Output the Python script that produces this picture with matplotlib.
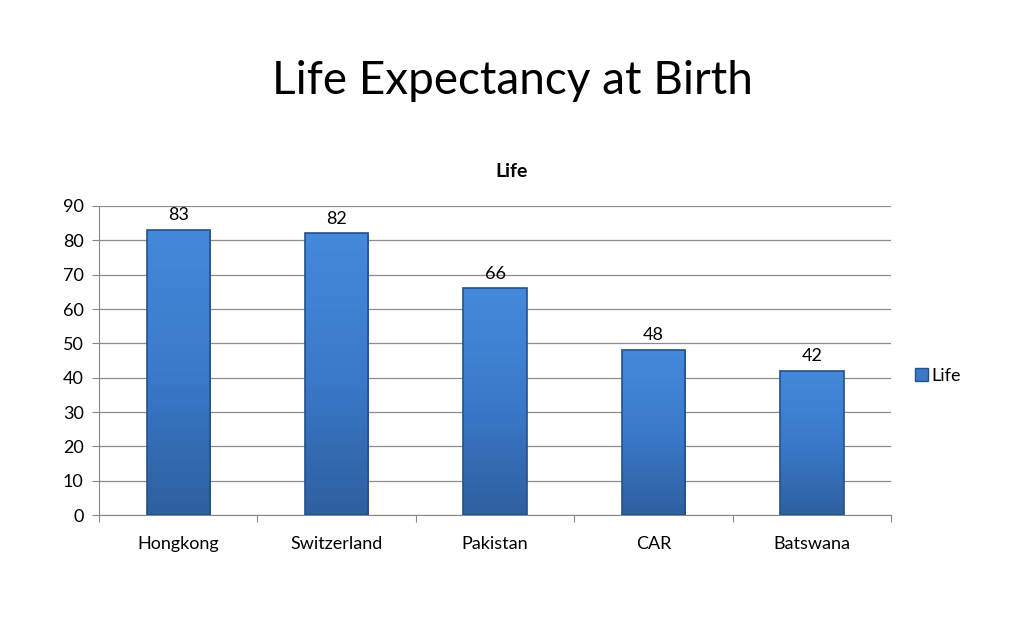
import matplotlib.pyplot as plt
import numpy as np
from matplotlib.colors import LinearSegmentedColormap

plt.rcParams['font.family'] = ['Lato', 'DejaVu Sans']

countries = ['Hongkong', 'Switzerland', 'Pakistan', 'CAR', 'Batswana']
life = [83, 82, 66, 48, 42]

fig = plt.figure(figsize=(10.24, 6.29), dpi=100)
ax = fig.add_axes([0.0967, 0.181, 0.7735, 0.4915])

x = np.arange(len(countries))
bars = ax.bar(x, life, width=0.4, color='#3a78c8', edgecolor='none', zorder=3)

# gradient fill, lighter at top, darker at the bottom
grad = np.linspace(0, 1, 256).reshape(-1, 1)
cmap = LinearSegmentedColormap.from_list('b', ['#2f5f9f', '#3a7acb', '#4589da'])
for b in bars:
    x0, y0 = b.get_x(), b.get_y()
    w, h = b.get_width(), b.get_height()
    im = ax.imshow(grad, cmap=cmap, extent=[x0, x0 + w, y0, y0 + h],
                   aspect='auto', origin='lower', zorder=3.5)
    im.set_clip_path(b)
    ax.add_patch(plt.Rectangle((x0, y0), w, h, fill=False, edgecolor='#24508c',
                               linewidth=1.2, zorder=4))
    ax.text(x0 + w / 2, h + 2.0, str(int(h)), ha='center', va='bottom', fontsize=13)

ax.set_xlim(-0.5, len(countries) - 0.5)
ax.set_ylim(0, 90)
ax.set_yticks(range(0, 91, 10))
ax.set_xticks(np.arange(-0.5, len(countries), 1.0))
ax.set_xticklabels([])
ax.set_xticks(x, minor=True)
ax.set_xticklabels(countries, minor=True)
ax.tick_params(axis='x', which='major', length=5, color='#888888', direction='out')
ax.tick_params(axis='x', which='minor', length=0, pad=15, labelsize=13)
ax.tick_params(axis='y', length=5, color='#888888', labelsize=13, pad=6)
ax.grid(axis='y', color='#8c8c8c', linewidth=0.9, zorder=0)
for s in ['top', 'right']:
    ax.spines[s].set_visible(False)
ax.spines['left'].set_color('#888888')
ax.spines['bottom'].set_color('#888888')

fig.text(0.5, 0.871, 'Life Expectancy at Birth', ha='center', va='center', fontsize=33)
fig.text(0.5, 0.727, 'Life', ha='center', va='center', fontsize=14, fontweight='bold')

leg = ax.legend([bars[0]], ['Life'], loc='center left', bbox_to_anchor=(1.01, 0.45),
                frameon=False, fontsize=13, handlelength=0.7, handleheight=0.7,
                handletextpad=0.2)
leg.legend_handles[0].set_facecolor('#3a78c8')
leg.legend_handles[0].set_edgecolor('#24508c')

fig.savefig('out.png', dpi=100)
